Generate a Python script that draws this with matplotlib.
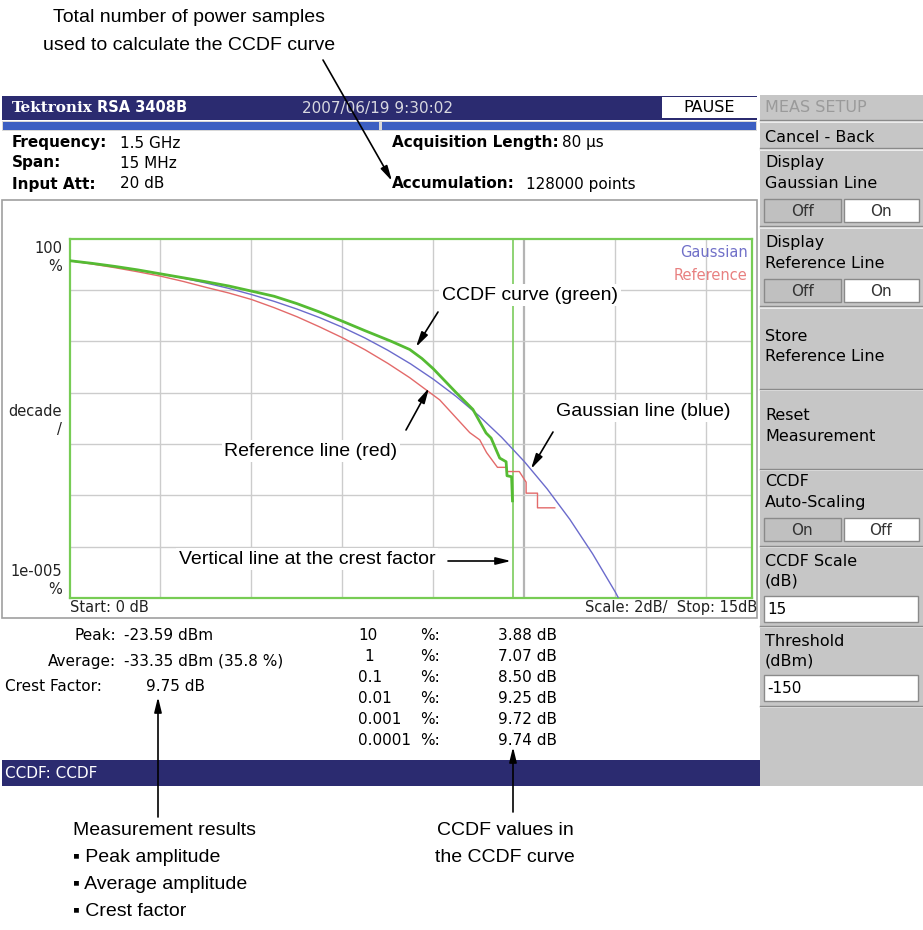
import matplotlib
matplotlib.use("Agg")
import matplotlib.pyplot as plt
from matplotlib import font_manager
from matplotlib.patches import Rectangle

# ---- data ---------------------------------------------------------------
gauss_db = [0, 0.5, 1, 1.5, 2, 2.5, 3, 3.5, 4, 4.5, 5, 5.5, 6, 6.5, 7, 7.5,
            8, 8.5, 9, 9.5, 10, 10.5, 11, 11.5, 12, 12.07]
gauss_pct = [36.8, 32.6, 28.4, 24.3, 20.5, 16.9, 13.6, 10.7, 8.11, 5.97, 4.23,
             2.88, 1.87, 1.15, 0.666, 0.362, 0.182, 0.0843, 0.0355, 0.0135,
             0.00454, 0.00134, 3.41e-4, 7.3e-5, 1.31e-5, 1.0e-5]

ccdf_db = [0, 0.5, 1, 1.5, 2, 2.5, 3, 3.5, 3.88, 4.5, 5, 5.5, 6, 6.5, 7.07,
           7.48, 7.75, 8.0, 8.5, 8.87, 9.16, 9.27, 9.38, 9.46, 9.60, 9.62,
           9.72, 9.74]
ccdf_pct = [37.0, 32.8, 28.6, 24.5, 20.5, 17.2, 14.4, 11.9, 10.0, 7.5, 5.4,
            3.7, 2.45, 1.6, 1.0, 0.69, 0.46, 0.29, 0.10, 0.047, 0.0163,
            0.0130, 0.0077, 0.0053, 0.0045, 0.0024, 0.0023, 0.00078]

ref_db = [0, 0.5, 1, 1.5, 2, 2.5, 3, 3.5, 4, 4.5, 5, 5.5, 6, 6.5, 7, 7.48,
          8.14, 8.8, 9.02, 9.17, 9.41, 9.61, 9.61, 9.89, 10.04, 10.04, 10.29,
          10.29, 10.67]
ref_pct = [37.0, 31.8, 27.0, 22.5, 18.5, 14.6, 11.2, 8.7, 6.5, 4.5, 3.0, 1.9,
           1.17, 0.68, 0.37, 0.195, 0.072, 0.0166, 0.012, 0.0068, 0.0035,
           0.0035, 0.0029, 0.0029, 0.0018, 0.0011, 0.0011, 0.00057, 0.00057]

crest_db = 9.75

tbl_pct = ["10", "1", "0.1", "0.01", "0.001", "0.0001"]
tbl_db = [3.88, 7.07, 8.50, 9.25, 9.72, 9.74]

# ---- fonts ----------------------------------------------------------------
names = {f.name for f in font_manager.fontManager.ttflist}
if "Liberation Sans Narrow" in names:
    ANN = ["Liberation Sans Narrow", "DejaVu Sans"]
    ann_size = 17
else:
    ANN = ["Liberation Sans", "DejaVu Sans"]
    ann_size = 14
UI = "DejaVu Sans"

NAVY = "#2b2b70"
PANEL = "#c6c6c6"

fig = plt.figure(figsize=(9.23, 9.30), dpi=100)
fig.patch.set_facecolor("white")

bg = fig.add_axes([0, 0, 1, 1], zorder=0)
bg.set_xlim(0, 923)
bg.set_ylim(930, 0)
bg.axis("off")


def box(ax, x0, y0, x1, y1, fc, ec="none", lw=1.0):
    ax.add_patch(Rectangle((x0, y0), x1 - x0, y1 - y0, fc=fc, ec=ec, lw=lw))


def txt(ax, x, y, s, size=11, color="black", ha="left", weight="normal",
        family=UI, **kw):
    ax.text(x, y, s, fontsize=size, color=color, ha=ha, va="center",
            fontweight=weight, family=family, **kw)


# title bar
box(bg, 2, 96, 757, 120, NAVY)
txt(bg, 12, 108, "Tektronix", size=11, color="white", weight="bold",
    family="DejaVu Serif")
txt(bg, 97, 108, "RSA 3408B", size=10.5, color="white", weight="bold")
txt(bg, 302, 108, "2007/06/19 9:30:02", size=11, color="#d8d8e0")
box(bg, 662, 97, 757, 118, "white")
txt(bg, 709, 107.5, "PAUSE", size=11.5, ha="center")

# progress bar
box(bg, 2, 121, 757, 131, "#d8d8d8")
box(bg, 3, 122, 379, 130, "#3c5fc2")
box(bg, 382, 122, 756, 130, "#3c5fc2")

# setup info
txt(bg, 12, 143, "Frequency:", weight="bold")
txt(bg, 12, 163, "Span:", weight="bold")
txt(bg, 12, 184, "Input Att:", weight="bold")
txt(bg, 120, 143, "1.5 GHz")
txt(bg, 120, 163, "15 MHz")
txt(bg, 120, 184, "20 dB")
txt(bg, 392, 143, "Acquisition Length:", weight="bold")
txt(bg, 562, 143, "80 \u00b5s")
txt(bg, 392, 184, "Accumulation:", weight="bold")
txt(bg, 526, 184, "128000 points")

# graph panel
box(bg, 2, 200, 757, 618, "white", ec="#a0a0a0", lw=1.2)
txt(bg, 62, 248, "100", size=10.5, ha="right", color="#222222")
txt(bg, 62, 266, "%", size=10.5, ha="right", color="#222222")
txt(bg, 62, 411, "decade", size=10.5, ha="right", color="#222222")
txt(bg, 62, 429, "/", size=10.5, ha="right", color="#222222")
txt(bg, 62, 571, "1e-005", size=10.5, ha="right", color="#222222")
txt(bg, 62, 589, "%", size=10.5, ha="right", color="#222222")
txt(bg, 70, 607, "Start: 0 dB", size=10.5, color="#222222")
txt(bg, 757, 607, "Scale: 2dB/  Stop: 15dB", size=10.5, ha="right",
    color="#222222")

# results
txt(bg, 116, 635, "Peak:", size=11, ha="right")
txt(bg, 124, 635, "-23.59 dBm", size=11)
txt(bg, 116, 661, "Average:", size=11, ha="right")
txt(bg, 124, 661, "-33.35 dBm (35.8 %)", size=11)
txt(bg, 5, 686, "Crest Factor:", size=11)
txt(bg, 146, 686, "%.2f dB" % crest_db, size=11)
for i, (p, d) in enumerate(zip(tbl_pct, tbl_db)):
    y = 635 + i * 21
    txt(bg, 358 if p != "1" else 364, y, p, size=11)
    txt(bg, 420, y, "%:", size=11)
    txt(bg, 498, y, "%.2f dB" % d, size=11)

# status bar
box(bg, 2, 760, 760, 786, NAVY)
txt(bg, 5, 773, "CCDF: CCDF", size=11, color="white")

# right side menu
box(bg, 760, 95, 923, 786, PANEL)
txt(bg, 765, 108, "MEAS SETUP", size=11.5, color="#9a9a9a")
for y in [122, 150, 228, 308, 390, 470, 547, 627, 707]:
    bg.plot([760, 923], [y, y], color="#f4f4f4", lw=1.2)
    bg.plot([760, 923], [y - 1.5, y - 1.5], color="#8a8a8a", lw=1.0)

menu = [(137, "Cancel - Back"), (162, "Display"), (183, "Gaussian Line"),
        (242, "Display"), (263, "Reference Line"), (336, "Store"),
        (356, "Reference Line"), (415, "Reset"), (436, "Measurement"),
        (481, "CCDF"), (502, "Auto-Scaling"), (561, "CCDF Scale"),
        (581, "(dB)"), (641, "Threshold"), (661, "(dBm)")]
for y, s in menu:
    txt(bg, 765, y, s, size=11.5)

for y0, left, right in [(199, "Off", "On"), (279, "Off", "On"),
                        (518, "On", "Off")]:
    box(bg, 764, y0, 841, y0 + 23, "#c0c0c0", ec="#8a8a8a")
    box(bg, 844, y0, 919, y0 + 23, "white", ec="#8a8a8a")
    txt(bg, 802, y0 + 12, left, size=11, ha="center", color="#333333")
    txt(bg, 881, y0 + 12, right, size=11, ha="center", color="#333333")

for y0, s in [(596, "15"), (675, "-150")]:
    box(bg, 764, y0, 918, y0 + 26, "white", ec="#8a8a8a")
    txt(bg, 767, y0 + 13, s, size=11)

# ---- CCDF plot --------------------------------------------------------------
W, H = 923.0, 930.0
px0, px1, py0, py1 = 69.5, 751.7, 238.5, 598.0
ax = fig.add_axes([px0 / W, 1 - py1 / H, (px1 - px0) / W, (py1 - py0) / H],
                  zorder=1)
ax.set_yscale("log")
ax.set_xlim(0, 15)
ax.set_ylim(1e-5, 100)
for k in range(2, 15, 2):
    ax.axvline(k, color="#b4b4b4" if k == 10 else "#cccccc",
               lw=1.6 if k == 10 else 1.0, zorder=1)
for e in range(-4, 2):
    ax.axhline(10.0 ** e, color="#cccccc", lw=1.0, zorder=1)
ax.axvline(crest_db, color="#7ccc5c", lw=1.2, zorder=2)
ax.plot(gauss_db, gauss_pct, color="#6b6bcc", lw=1.0, zorder=3)
ax.plot(ref_db, ref_pct, color="#e36a6a", lw=1.0, zorder=3)
ax.plot(ccdf_db, ccdf_pct, color="#55bb33", lw=2.0, zorder=4)
ax.set_xticks([])
ax.set_yticks([])
ax.minorticks_off()
for sp in ax.spines.values():
    sp.set_color("#77cc55")
    sp.set_linewidth(1.6)
ax.text(0.994, 0.96, "Gaussian", transform=ax.transAxes, ha="right",
        va="center", color="#7070c8", fontsize=10.5, family=UI)
ax.text(0.994, 0.896, "Reference", transform=ax.transAxes, ha="right",
        va="center", color="#e88080", fontsize=10.5, family=UI)

# ---- callouts ---------------------------------------------------------------
ov = fig.add_axes([0, 0, 1, 1], zorder=5)
ov.set_xlim(0, 923)
ov.set_ylim(930, 0)
ov.axis("off")
ov.patch.set_alpha(0)

arrow = dict(arrowstyle="-|>,head_length=0.9,head_width=0.22", color="black",
             lw=1.2, shrinkA=0, shrinkB=0)


def callout(x, y, s, ha="center", white=False):
    kw = {}
    if white:
        kw["bbox"] = dict(fc="white", ec="none", pad=2)
    ov.text(x, y, s, fontsize=ann_size, family=ANN, ha=ha, va="center",
            color="black", **kw)


def pointer(x0, y0, x1, y1):
    ov.annotate("", xy=(x1, y1), xytext=(x0, y0), arrowprops=arrow)


callout(189, 17, "Total number of power samples")
callout(189, 45, "used to calculate the CCDF curve")
pointer(323, 60, 392, 181)

callout(530, 295, "CCDF curve (green)", white=True)
pointer(438, 312, 416, 347)
callout(311, 451, "Reference line (red)", white=True)
pointer(406, 430, 429, 388)
callout(643, 411, "Gaussian line (blue)", white=True)
pointer(553, 432, 531, 469)
callout(307, 559, "Vertical line at the crest factor", white=True)
pointer(448, 561, 511, 561)

pointer(158, 817, 158, 697)
pointer(513, 812, 513, 747)
callout(73, 830, "Measurement results", ha="left")
callout(73, 857, "\u25aa Peak amplitude", ha="left")
callout(73, 884, "\u25aa Average amplitude", ha="left")
callout(73, 911, "\u25aa Crest factor", ha="left")
callout(505, 830, "CCDF values in")
callout(505, 857, "the CCDF curve")

fig.savefig("out.png", dpi=100)
